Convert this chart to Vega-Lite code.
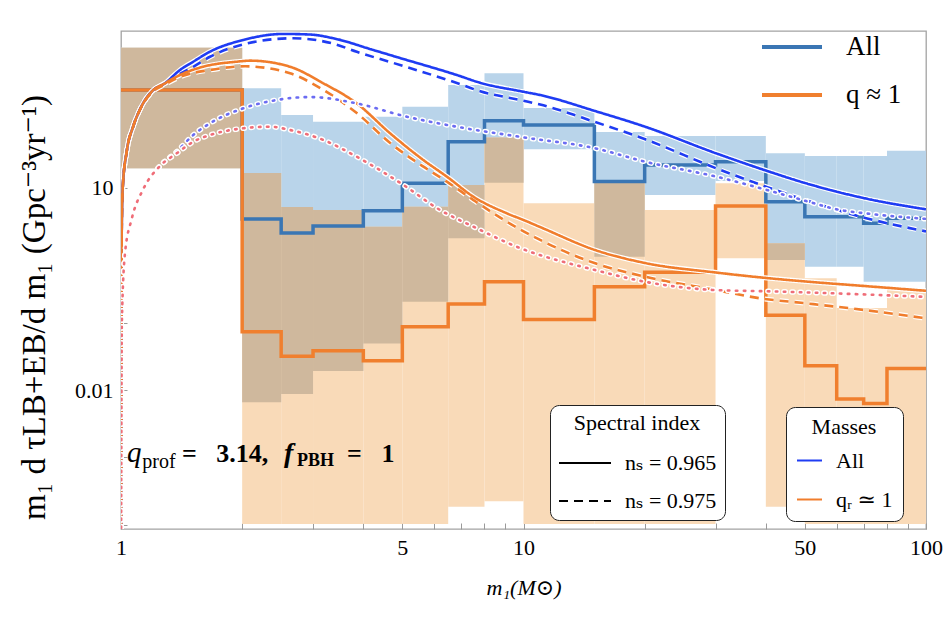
{
  "$schema": "https://vega.github.io/schema/vega-lite/v6.json",
  "width": 805,
  "height": 498,
  "autosize": {"type": "none"},
  "padding": {"left": 121, "top": 31, "right": 21, "bottom": 102},
  "background": "white",
  "config": {
    "view": {"stroke": "#a3a3a3", "strokeWidth": 1.3},
    "font": "Liberation Serif, DejaVu Serif, serif",
    "axis": {
      "domain": false, "grid": false, "labelFlush": false,
      "labelFont": "Liberation Serif, DejaVu Serif, serif", "labelFontSize": 22, "labelColor": "black",
      "tickColor": "#9a9a9a", "tickSize": -6, "labelPadding": 14,
      "titleFont": "Liberation Serif, DejaVu Serif, serif", "titleFontWeight": "normal", "titleColor": "black"
    },
    "legend": {
      "labelFont": "Liberation Serif, DejaVu Serif, serif", "titleFont": "Liberation Serif, DejaVu Serif, serif",
      "labelColor": "black", "titleColor": "black", "titleFontWeight": "normal"
    }
  },
  "datasets": {
    "bins": [
      {"m": 1, "m2": 2, "aLo": 19.4, "aHi": 1194, "qLo": 19.4, "qHi": 1194, "oLo": 19.4, "oHi": 1194},
      {"m": 2, "m2": 2.5, "aLo": 0.0066, "aHi": 298, "qLo": 0.000103, "qHi": 16.5, "oLo": 0.0066, "oHi": 16.5},
      {"m": 2.5, "m2": 3, "aLo": 0.0087, "aHi": 120, "qLo": 0.000103, "qHi": 5.17, "oLo": 0.0087, "oHi": 5.17},
      {"m": 3, "m2": 4, "aLo": 0.0191, "aHi": 95.3, "qLo": 0.000103, "qHi": 4.67, "oLo": 0.0191, "oHi": 4.67},
      {"m": 4, "m2": 5, "aLo": 0.0491, "aHi": 113, "qLo": 0.000103, "qHi": 2.64, "oLo": 0.0491, "oHi": 2.64},
      {"m": 5, "m2": 6.5, "aLo": 0.204, "aHi": 159, "qLo": 0.000103, "qHi": 5.23, "oLo": 0.204, "oHi": 5.23},
      {"m": 6.5, "m2": 8, "aLo": 1.776, "aHi": 334, "qLo": 0.000185, "qHi": 11.0, "oLo": 1.776, "oHi": 11.0},
      {"m": 8, "m2": 10, "aLo": 11.9, "aHi": 498, "qLo": 0.000225, "qHi": 55.6, "oLo": 11.9, "oHi": 55.6},
      {"m": 10, "m2": 15, "aLo": 37.2, "aHi": 152, "qLo": 0.000103, "qHi": 5.87, "oLo": null, "oHi": null},
      {"m": 15, "m2": 20, "aLo": 0.947, "aHi": 67, "qLo": 0.000103, "qHi": 11.9, "oLo": 0.947, "oHi": 11.9},
      {"m": 20, "m2": 30, "aLo": 7.79, "aHi": 58.5, "qLo": 0.000103, "qHi": 4.67, "oLo": null, "oHi": null},
      {"m": 30, "m2": 40, "aLo": 12.6, "aHi": 58.5, "qLo": 0.897, "qHi": 11.6, "oLo": null, "oHi": null},
      {"m": 40, "m2": 50, "aLo": 0.846, "aHi": 32.4, "qLo": 0.000185, "qHi": 1.5, "oLo": 0.846, "oHi": 1.5},
      {"m": 50, "m2": 60, "aLo": 0.673, "aHi": 29.5, "qLo": 0.000103, "qHi": 0.453, "oLo": null, "oHi": null},
      {"m": 60, "m2": 70, "aLo": 0.673, "aHi": 29.5, "qLo": 0.000103, "qHi": 0.164, "oLo": null, "oHi": null},
      {"m": 70, "m2": 80, "aLo": 0.403, "aHi": 29.5, "qLo": 0.000103, "qHi": 0.164, "oLo": null, "oHi": null},
      {"m": 80, "m2": 100, "aLo": 0.403, "aHi": 35.4, "qLo": 0.000103, "qHi": 0.303, "oLo": null, "oHi": null}
    ],
    "steps": [
      {"sample": "All", "m": 1, "v": 281.5}, {"sample": "All", "m": 2, "v": 3.44},
      {"sample": "All", "m": 2.5, "v": 2.13}, {"sample": "All", "m": 3, "v": 2.7},
      {"sample": "All", "m": 4, "v": 4.56}, {"sample": "All", "m": 5, "v": 11.6},
      {"sample": "All", "m": 6.5, "v": 48.1}, {"sample": "All", "m": 8, "v": 98.6},
      {"sample": "All", "m": 10, "v": 85.2}, {"sample": "All", "m": 15, "v": 12.4},
      {"sample": "All", "m": 20, "v": 21.7}, {"sample": "All", "m": 30, "v": 24.3},
      {"sample": "All", "m": 40, "v": 6.2}, {"sample": "All", "m": 50, "v": 3.71},
      {"sample": "All", "m": 60, "v": 3.71}, {"sample": "All", "m": 70, "v": 2.96},
      {"sample": "All", "m": 80, "v": 3.52}, {"sample": "All", "m": 100, "v": 3.52},
      {"sample": "q ≈ 1", "m": 1, "v": 281.5}, {"sample": "q ≈ 1", "m": 2, "v": 0.073},
      {"sample": "q ≈ 1", "m": 2.5, "v": 0.0318}, {"sample": "q ≈ 1", "m": 3, "v": 0.0382},
      {"sample": "q ≈ 1", "m": 4, "v": 0.0271}, {"sample": "q ≈ 1", "m": 5, "v": 0.0866},
      {"sample": "q ≈ 1", "m": 6.5, "v": 0.188}, {"sample": "q ≈ 1", "m": 8, "v": 0.403},
      {"sample": "q ≈ 1", "m": 10, "v": 0.1115}, {"sample": "q ≈ 1", "m": 15, "v": 0.34},
      {"sample": "q ≈ 1", "m": 20, "v": 0.556}, {"sample": "q ≈ 1", "m": 30, "v": 5.36},
      {"sample": "q ≈ 1", "m": 40, "v": 0.129}, {"sample": "q ≈ 1", "m": 50, "v": 0.0229},
      {"sample": "q ≈ 1", "m": 60, "v": 0.00733}, {"sample": "q ≈ 1", "m": 70, "v": 0.00633},
      {"sample": "q ≈ 1", "m": 80, "v": 0.0209}, {"sample": "q ≈ 1", "m": 100, "v": 0.0209}
    ],
    "curves": [
      {"mass": "All", "ns": "nₛ = 0.965", "m": 1.0, "v": 0.00001},
      {"mass": "All", "ns": "nₛ = 0.965", "m": 1.004, "v": 2.13},
      {"mass": "All", "ns": "nₛ = 0.965", "m": 1.0098, "v": 9.9},
      {"mass": "All", "ns": "nₛ = 0.965", "m": 1.033, "v": 34.2},
      {"mass": "All", "ns": "nₛ = 0.965", "m": 1.073, "v": 82},
      {"mass": "All", "ns": "nₛ = 0.965", "m": 1.119, "v": 152},
      {"mass": "All", "ns": "nₛ = 0.965", "m": 1.192, "v": 266},
      {"mass": "All", "ns": "nₛ = 0.965", "m": 1.286, "v": 354},
      {"mass": "All", "ns": "nₛ = 0.965", "m": 1.402, "v": 558},
      {"mass": "All", "ns": "nₛ = 0.965", "m": 1.512, "v": 740},
      {"mass": "All", "ns": "nₛ = 0.965", "m": 1.664, "v": 1042},
      {"mass": "All", "ns": "nₛ = 0.965", "m": 2.014, "v": 1554},
      {"mass": "All", "ns": "nₛ = 0.965", "m": 2.527, "v": 1906},
      {"mass": "All", "ns": "nₛ = 0.965", "m": 2.95, "v": 1870},
      {"mass": "All", "ns": "nₛ = 0.965", "m": 3.365, "v": 1647},
      {"mass": "All", "ns": "nₛ = 0.965", "m": 4.237, "v": 1101},
      {"mass": "All", "ns": "nₛ = 0.965", "m": 4.935, "v": 838},
      {"mass": "All", "ns": "nₛ = 0.965", "m": 6.83, "v": 469},
      {"mass": "All", "ns": "nₛ = 0.965", "m": 7.804, "v": 360},
      {"mass": "All", "ns": "nₛ = 0.965", "m": 10, "v": 265},
      {"mass": "All", "ns": "nₛ = 0.965", "m": 11, "v": 237},
      {"mass": "All", "ns": "nₛ = 0.965", "m": 15.07, "v": 137},
      {"mass": "All", "ns": "nₛ = 0.965", "m": 20.06, "v": 80.2},
      {"mass": "All", "ns": "nₛ = 0.965", "m": 30.12, "v": 32.3},
      {"mass": "All", "ns": "nₛ = 0.965", "m": 40.33, "v": 17.7},
      {"mass": "All", "ns": "nₛ = 0.965", "m": 50.4, "v": 11.6},
      {"mass": "All", "ns": "nₛ = 0.965", "m": 70.6, "v": 6.95},
      {"mass": "All", "ns": "nₛ = 0.965", "m": 100, "v": 4.78},
      {"mass": "All", "ns": "nₛ = 0.975", "m": 1.0, "v": 0.00001},
      {"mass": "All", "ns": "nₛ = 0.975", "m": 1.004, "v": 2.13},
      {"mass": "All", "ns": "nₛ = 0.975", "m": 1.0098, "v": 9.9},
      {"mass": "All", "ns": "nₛ = 0.975", "m": 1.033, "v": 34.2},
      {"mass": "All", "ns": "nₛ = 0.975", "m": 1.073, "v": 82},
      {"mass": "All", "ns": "nₛ = 0.975", "m": 1.119, "v": 152},
      {"mass": "All", "ns": "nₛ = 0.975", "m": 1.192, "v": 266},
      {"mass": "All", "ns": "nₛ = 0.975", "m": 1.286, "v": 350},
      {"mass": "All", "ns": "nₛ = 0.975", "m": 1.402, "v": 487},
      {"mass": "All", "ns": "nₛ = 0.975", "m": 1.512, "v": 622},
      {"mass": "All", "ns": "nₛ = 0.975", "m": 1.664, "v": 875},
      {"mass": "All", "ns": "nₛ = 0.975", "m": 2.014, "v": 1337},
      {"mass": "All", "ns": "nₛ = 0.975", "m": 2.676, "v": 1648},
      {"mass": "All", "ns": "nₛ = 0.975", "m": 3.365, "v": 1370},
      {"mass": "All", "ns": "nₛ = 0.975", "m": 3.853, "v": 1038},
      {"mass": "All", "ns": "nₛ = 0.975", "m": 5.129, "v": 616},
      {"mass": "All", "ns": "nₛ = 0.975", "m": 6.83, "v": 357},
      {"mass": "All", "ns": "nₛ = 0.975", "m": 7.804, "v": 270},
      {"mass": "All", "ns": "nₛ = 0.975", "m": 10, "v": 195},
      {"mass": "All", "ns": "nₛ = 0.975", "m": 11, "v": 171},
      {"mass": "All", "ns": "nₛ = 0.975", "m": 15.07, "v": 94.2},
      {"mass": "All", "ns": "nₛ = 0.975", "m": 20.06, "v": 52.3},
      {"mass": "All", "ns": "nₛ = 0.975", "m": 30.12, "v": 19.4},
      {"mass": "All", "ns": "nₛ = 0.975", "m": 40.33, "v": 10.2},
      {"mass": "All", "ns": "nₛ = 0.975", "m": 50.4, "v": 6.5},
      {"mass": "All", "ns": "nₛ = 0.975", "m": 70.6, "v": 3.57},
      {"mass": "All", "ns": "nₛ = 0.975", "m": 100, "v": 2.25},
      {"mass": "qᵣ ≃ 1", "ns": "nₛ = 0.965", "m": 1.0, "v": 0.00001},
      {"mass": "qᵣ ≃ 1", "ns": "nₛ = 0.965", "m": 1.004, "v": 2.13},
      {"mass": "qᵣ ≃ 1", "ns": "nₛ = 0.965", "m": 1.0098, "v": 9.9},
      {"mass": "qᵣ ≃ 1", "ns": "nₛ = 0.965", "m": 1.033, "v": 34.2},
      {"mass": "qᵣ ≃ 1", "ns": "nₛ = 0.965", "m": 1.073, "v": 82},
      {"mass": "qᵣ ≃ 1", "ns": "nₛ = 0.965", "m": 1.119, "v": 152},
      {"mass": "qᵣ ≃ 1", "ns": "nₛ = 0.965", "m": 1.192, "v": 266},
      {"mass": "qᵣ ≃ 1", "ns": "nₛ = 0.965", "m": 1.286, "v": 354},
      {"mass": "qᵣ ≃ 1", "ns": "nₛ = 0.965", "m": 1.402, "v": 470},
      {"mass": "qᵣ ≃ 1", "ns": "nₛ = 0.965", "m": 1.602, "v": 624},
      {"mass": "qᵣ ≃ 1", "ns": "nₛ = 0.965", "m": 1.94, "v": 740},
      {"mass": "qᵣ ≃ 1", "ns": "nₛ = 0.965", "m": 2.093, "v": 766},
      {"mass": "qᵣ ≃ 1", "ns": "nₛ = 0.965", "m": 2.63, "v": 622},
      {"mass": "qᵣ ≃ 1", "ns": "nₛ = 0.965", "m": 3.184, "v": 353},
      {"mass": "qᵣ ≃ 1", "ns": "nₛ = 0.965", "m": 3.853, "v": 178},
      {"mass": "qᵣ ≃ 1", "ns": "nₛ = 0.965", "m": 4.664, "v": 64},
      {"mass": "qᵣ ≃ 1", "ns": "nₛ = 0.965", "m": 5.641, "v": 25.7},
      {"mass": "qᵣ ≃ 1", "ns": "nₛ = 0.965", "m": 6.449, "v": 14.6},
      {"mass": "qᵣ ≃ 1", "ns": "nₛ = 0.965", "m": 7.511, "v": 7.35},
      {"mass": "qᵣ ≃ 1", "ns": "nₛ = 0.965", "m": 9.092, "v": 4.17},
      {"mass": "qᵣ ≃ 1", "ns": "nₛ = 0.965", "m": 10, "v": 3.32},
      {"mass": "qᵣ ≃ 1", "ns": "nₛ = 0.965", "m": 11, "v": 2.61},
      {"mass": "qᵣ ≃ 1", "ns": "nₛ = 0.965", "m": 15.07, "v": 1.19},
      {"mass": "qᵣ ≃ 1", "ns": "nₛ = 0.965", "m": 20.06, "v": 0.764},
      {"mass": "qᵣ ≃ 1", "ns": "nₛ = 0.965", "m": 30.12, "v": 0.552},
      {"mass": "qᵣ ≃ 1", "ns": "nₛ = 0.965", "m": 40.33, "v": 0.457},
      {"mass": "qᵣ ≃ 1", "ns": "nₛ = 0.965", "m": 50.4, "v": 0.406},
      {"mass": "qᵣ ≃ 1", "ns": "nₛ = 0.965", "m": 70.6, "v": 0.348},
      {"mass": "qᵣ ≃ 1", "ns": "nₛ = 0.965", "m": 100, "v": 0.296},
      {"mass": "qᵣ ≃ 1", "ns": "nₛ = 0.975", "m": 1.0, "v": 0.00001},
      {"mass": "qᵣ ≃ 1", "ns": "nₛ = 0.975", "m": 1.004, "v": 2.13},
      {"mass": "qᵣ ≃ 1", "ns": "nₛ = 0.975", "m": 1.0098, "v": 9.9},
      {"mass": "qᵣ ≃ 1", "ns": "nₛ = 0.975", "m": 1.033, "v": 34.2},
      {"mass": "qᵣ ≃ 1", "ns": "nₛ = 0.975", "m": 1.073, "v": 82},
      {"mass": "qᵣ ≃ 1", "ns": "nₛ = 0.975", "m": 1.119, "v": 150},
      {"mass": "qᵣ ≃ 1", "ns": "nₛ = 0.975", "m": 1.192, "v": 258},
      {"mass": "qᵣ ≃ 1", "ns": "nₛ = 0.975", "m": 1.286, "v": 338},
      {"mass": "qᵣ ≃ 1", "ns": "nₛ = 0.975", "m": 1.402, "v": 440},
      {"mass": "qᵣ ≃ 1", "ns": "nₛ = 0.975", "m": 1.664, "v": 557},
      {"mass": "qᵣ ≃ 1", "ns": "nₛ = 0.975", "m": 2.033, "v": 632},
      {"mass": "qᵣ ≃ 1", "ns": "nₛ = 0.975", "m": 2.63, "v": 497},
      {"mass": "qᵣ ≃ 1", "ns": "nₛ = 0.975", "m": 3.184, "v": 281},
      {"mass": "qᵣ ≃ 1", "ns": "nₛ = 0.975", "m": 3.853, "v": 128},
      {"mass": "qᵣ ≃ 1", "ns": "nₛ = 0.975", "m": 4.664, "v": 46},
      {"mass": "qᵣ ≃ 1", "ns": "nₛ = 0.975", "m": 5.641, "v": 20.5},
      {"mass": "qᵣ ≃ 1", "ns": "nₛ = 0.975", "m": 6.449, "v": 12.3},
      {"mass": "qᵣ ≃ 1", "ns": "nₛ = 0.975", "m": 7.511, "v": 6.56},
      {"mass": "qᵣ ≃ 1", "ns": "nₛ = 0.975", "m": 9.092, "v": 3.13},
      {"mass": "qᵣ ≃ 1", "ns": "nₛ = 0.975", "m": 11, "v": 1.68},
      {"mass": "qᵣ ≃ 1", "ns": "nₛ = 0.975", "m": 15.07, "v": 0.756},
      {"mass": "qᵣ ≃ 1", "ns": "nₛ = 0.975", "m": 20.06, "v": 0.479},
      {"mass": "qᵣ ≃ 1", "ns": "nₛ = 0.975", "m": 30.12, "v": 0.303},
      {"mass": "qᵣ ≃ 1", "ns": "nₛ = 0.975", "m": 38.73, "v": 0.229},
      {"mass": "qᵣ ≃ 1", "ns": "nₛ = 0.975", "m": 50.4, "v": 0.193},
      {"mass": "qᵣ ≃ 1", "ns": "nₛ = 0.975", "m": 70.6, "v": 0.153},
      {"mass": "qᵣ ≃ 1", "ns": "nₛ = 0.975", "m": 100, "v": 0.1155}
    ],
    "dots": [
      {"mass": "All", "m": 1.0, "v": 0.00001}, {"mass": "All", "m": 1.005, "v": 0.1},
      {"mass": "All", "m": 1.023, "v": 1.06}, {"mass": "All", "m": 1.063, "v": 3.43},
      {"mass": "All", "m": 1.136, "v": 9.55}, {"mass": "All", "m": 1.25, "v": 21},
      {"mass": "All", "m": 1.375, "v": 34.2}, {"mass": "All", "m": 1.512, "v": 60.5},
      {"mass": "All", "m": 1.664, "v": 90.2}, {"mass": "All", "m": 2.014, "v": 150.7},
      {"mass": "All", "m": 2.438, "v": 200}, {"mass": "All", "m": 2.95, "v": 221},
      {"mass": "All", "m": 3.853, "v": 178}, {"mass": "All", "m": 5.129, "v": 113},
      {"mass": "All", "m": 6.83, "v": 80.2}, {"mass": "All", "m": 10, "v": 55.8},
      {"mass": "All", "m": 15.07, "v": 38.4}, {"mass": "All", "m": 20.06, "v": 24.3},
      {"mass": "All", "m": 30.12, "v": 14.6}, {"mass": "All", "m": 40.33, "v": 9.23},
      {"mass": "All", "m": 50.4, "v": 6.34}, {"mass": "All", "m": 61.2, "v": 4.67},
      {"mass": "All", "m": 70.6, "v": 4.17}, {"mass": "All", "m": 100, "v": 3.45},
      {"mass": "q", "m": 1.0, "v": 0.00001}, {"mass": "q", "m": 1.005, "v": 0.1},
      {"mass": "q", "m": 1.023, "v": 1.06}, {"mass": "q", "m": 1.063, "v": 3.43},
      {"mass": "q", "m": 1.136, "v": 9.55}, {"mass": "q", "m": 1.25, "v": 21},
      {"mass": "q", "m": 1.375, "v": 32.3}, {"mass": "q", "m": 1.512, "v": 48.1},
      {"mass": "q", "m": 1.664, "v": 60.5}, {"mass": "q", "m": 2.014, "v": 76.1},
      {"mass": "q", "m": 2.346, "v": 80.4}, {"mass": "q", "m": 2.63, "v": 71.8},
      {"mass": "q", "m": 3.184, "v": 51}, {"mass": "q", "m": 3.853, "v": 28.8},
      {"mass": "q", "m": 5.03, "v": 11}, {"mass": "q", "m": 6.206, "v": 4.67},
      {"mass": "q", "m": 7.511, "v": 2.64}, {"mass": "q", "m": 9.627, "v": 1.33},
      {"mass": "q", "m": 15.07, "v": 0.601}, {"mass": "q", "m": 20.06, "v": 0.403},
      {"mass": "q", "m": 30.12, "v": 0.303}, {"mass": "q", "m": 38.73, "v": 0.293},
      {"mass": "q", "m": 100, "v": 0.241}
    ],
    "notes": [
      {"t": "q", "m": 1.035, "v": 0.000855},
      {"t": "prof", "m": 1.13, "v": 0.000697},
      {"t": "=\u00a0\u00a0\u00a03.14,", "m": 1.418, "v": 0.000855},
      {"t": "f", "m": 2.542, "v": 0.000855},
      {"t": "PBH", "m": 2.738, "v": 0.000745},
      {"t": "=\u00a0\u00a0\u00a01", "m": 3.645, "v": 0.000855}
    ]
  },
  "encoding": {
    "x": {
      "field": "m", "type": "quantitative",
      "scale": {"type": "log", "domain": [1, 100], "nice": false},
      "axis": {
        "values": [1, 2, 3, 4, 5, 6, 7, 8, 9, 10, 20, 30, 40, 50, 60, 70, 80, 90, 100],
        "labelExpr": "(datum.value == 1 || datum.value == 5 || datum.value == 10 || datum.value == 50 || datum.value == 100) ? datum.value + '' : ''",
        "title": "m₁(M⊙)", "titleFontSize": 22, "titleFontStyle": "italic", "titlePadding": 19
      }
    },
    "y": {
      "field": "v", "type": "quantitative",
      "scale": {"type": "log", "domain": [0.0000869, 2109], "nice": false},
      "axis": {
        "values": [0.0001, 0.001, 0.01, 0.1, 1, 10, 100, 1000],
        "labelExpr": "datum.value == 10 ? '10' : (abs(datum.value - 0.01) < 1e-9 ? '0.01' : '')",
        "title": "m₁ d τLB+EB/d m₁  (Gpc⁻³yr⁻¹)", "titleFontSize": 33,
        "titleX": -77, "titleY": 276, "titleAngle": -90, "titleBaseline": "alphabetic", "titleAlign": "center"
      }
    }
  },
  "layer": [
    {
      "data": {"name": "bins"},
      "mark": {"type": "rect", "color": "#b9d4ea", "clip": true},
      "encoding": {
        "x2": {"field": "m2"},
        "y": {"field": "aLo", "type": "quantitative", "scale": {"type": "log"}},
        "y2": {"field": "aHi"}
      }
    },
    {
      "data": {"name": "bins"},
      "mark": {"type": "rect", "color": "#f9dab8", "clip": true},
      "encoding": {
        "x2": {"field": "m2"},
        "y": {"field": "qLo", "type": "quantitative", "scale": {"type": "log"}},
        "y2": {"field": "qHi"}
      }
    },
    {
      "data": {"name": "bins"},
      "transform": [{"filter": "isValid(datum.oLo)"}],
      "mark": {"type": "rect", "color": "#cfb89d", "clip": true},
      "encoding": {
        "x2": {"field": "m2"},
        "y": {"field": "oLo", "type": "quantitative", "scale": {"type": "log"}},
        "y2": {"field": "oHi"}
      }
    },
    {
      "data": {"name": "steps"},
      "mark": {"type": "line", "interpolate": "step-after", "strokeWidth": 3.5, "clip": true},
      "encoding": {
        "stroke": {
          "field": "sample", "type": "nominal",
          "scale": {"domain": ["All", "q ≈ 1"], "range": ["#3a76b4", "#f07f2e"]},
          "legend": {
            "orient": "none", "legendX": 639, "legendY": -16, "title": null, "padding": 0,
            "symbolType": "stroke", "symbolSize": 3600, "symbolStrokeWidth": 4,
            "labelFontSize": 27, "labelOffset": 22, "rowPadding": 3
          }
        }
      }
    },
    {
      "data": {"name": "curves"},
      "transform": [{"filter": "datum.ns == 'nₛ = 0.965'"}],
      "mark": {"type": "line", "interpolate": "monotone", "color": "white", "strokeWidth": 5, "clip": true},
      "encoding": {"detail": {"field": "mass"}}
    },
    {
      "data": {"name": "curves"},
      "transform": [{"filter": "datum.ns == 'nₛ = 0.975'"}],
      "mark": {"type": "line", "interpolate": "monotone", "color": "white", "strokeWidth": 5, "strokeDash": [9, 6], "clip": true},
      "encoding": {"detail": {"field": "mass"}}
    },
    {
      "data": {"name": "curves"},
      "mark": {"type": "line", "interpolate": "monotone", "strokeWidth": 2.6, "clip": true},
      "encoding": {
        "color": {
          "field": "mass", "type": "nominal",
          "scale": {"domain": ["All", "qᵣ ≃ 1"], "range": ["#1f3cf3", "#f07d2c"]},
          "legend": {
            "orient": "none", "legendX": 665, "legendY": 376, "title": "Masses",
            "titleFontSize": 22, "titleAnchor": "middle", "titlePadding": 8,
            "symbolType": "stroke", "symbolSize": 625, "symbolStrokeWidth": 2,
            "labelFontSize": 22, "labelOffset": 13, "rowPadding": 14, "padding": 10,
            "strokeColor": "#222222", "cornerRadius": 9, "fillColor": "white"
          }
        },
        "strokeDash": {
          "field": "ns", "type": "nominal",
          "scale": {"domain": ["nₛ = 0.965", "nₛ = 0.975"], "range": [[1, 0], [9, 6]]},
          "legend": {
            "orient": "none", "legendX": 429, "legendY": 374, "title": "Spectral index",
            "titleFontSize": 22, "titleAnchor": "middle", "titlePadding": 1,
            "symbolType": "stroke", "symbolSize": 2704, "symbolStrokeWidth": 2,
            "symbolStrokeColor": "black",
            "labelFontSize": 22, "labelOffset": 13, "rowPadding": 0, "padding": 8,
            "strokeColor": "#222222", "cornerRadius": 9, "fillColor": "white"
          }
        }
      }
    },
    {
      "data": {"name": "dots"},
      "transform": [{"filter": "datum.mass == 'All'"}],
      "mark": {"type": "line", "interpolate": "monotone", "color": "white", "strokeWidth": 5.5, "strokeDash": [1.5, 6.5], "strokeCap": "round", "clip": true},
      "encoding": {}
    },
    {
      "data": {"name": "dots"},
      "transform": [{"filter": "datum.mass == 'All'"}],
      "mark": {"type": "line", "interpolate": "monotone", "color": "#6b6cf2", "strokeWidth": 2.6, "strokeDash": [1.5, 6.5], "strokeCap": "round", "clip": true},
      "encoding": {}
    },
    {
      "data": {"name": "dots"},
      "transform": [{"filter": "datum.mass == 'q'"}],
      "mark": {"type": "line", "interpolate": "monotone", "color": "white", "strokeWidth": 5.5, "strokeDash": [1.5, 6.5], "strokeCap": "round", "clip": true},
      "encoding": {}
    },
    {
      "data": {"name": "dots"},
      "transform": [{"filter": "datum.mass == 'q'"}],
      "mark": {"type": "line", "interpolate": "monotone", "color": "#ef6d78", "strokeWidth": 2.6, "strokeDash": [1.5, 6.5], "strokeCap": "round", "clip": true},
      "encoding": {}
    },
    {
      "data": {"name": "notes"},
      "transform": [{"filter": "datum.t == 'q'"}],
      "mark": {"type": "text", "font": "Liberation Serif, DejaVu Serif, serif", "fontStyle": "italic", "fontSize": 29, "align": "left", "baseline": "alphabetic", "color": "black"},
      "encoding": {"text": {"field": "t", "type": "nominal"}}
    },
    {
      "data": {"name": "notes"},
      "transform": [{"filter": "datum.t == 'prof'"}],
      "mark": {"type": "text", "font": "Liberation Serif, DejaVu Serif, serif", "fontSize": 20, "align": "left", "baseline": "alphabetic", "color": "black"},
      "encoding": {"text": {"field": "t", "type": "nominal"}}
    },
    {
      "data": {"name": "notes"},
      "transform": [{"filter": "indexof(datum.t, '=') == 0"}],
      "mark": {"type": "text", "font": "Liberation Serif, DejaVu Serif, serif", "fontWeight": "bold", "fontSize": 26, "align": "left", "baseline": "alphabetic", "color": "black"},
      "encoding": {"text": {"field": "t", "type": "nominal"}}
    },
    {
      "data": {"name": "notes"},
      "transform": [{"filter": "datum.t == 'f'"}],
      "mark": {"type": "text", "font": "Liberation Serif, DejaVu Serif, serif", "fontWeight": "bold", "fontStyle": "italic", "fontSize": 28, "align": "left", "baseline": "alphabetic", "color": "black"},
      "encoding": {"text": {"field": "t", "type": "nominal"}}
    },
    {
      "data": {"name": "notes"},
      "transform": [{"filter": "datum.t == 'PBH'"}],
      "mark": {"type": "text", "font": "Liberation Serif, DejaVu Serif, serif", "fontWeight": "bold", "fontSize": 18, "align": "left", "baseline": "alphabetic", "color": "black"},
      "encoding": {"text": {"field": "t", "type": "nominal"}}
    }
  ]
}
